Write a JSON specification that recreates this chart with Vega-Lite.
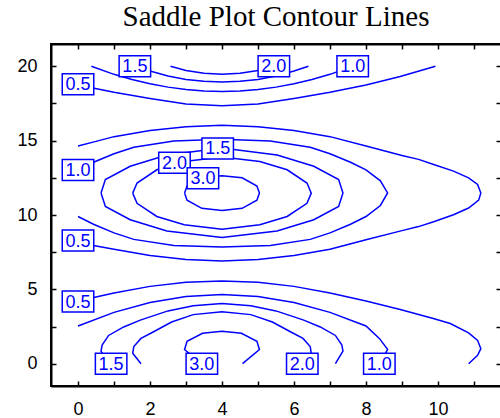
{
  "$schema": "https://vega.github.io/schema/vega-lite/v6.json",
  "width": 450,
  "height": 342,
  "autosize": "none",
  "padding": {"left": 51, "top": 44, "right": 0, "bottom": 32},
  "background": "white",
  "title": {"text": "Saddle Plot Contour Lines", "font": "Liberation Serif", "fontSize": 29, "fontWeight": "normal", "color": "black", "anchor": "middle", "baseline": "bottom", "offset": 10, "dy": 28},
  "config": {
    "view": {"stroke": "black", "strokeWidth": 2},
    "axis": {"domainColor": "black", "domainWidth": 2, "tickColor": "black", "tickWidth": 1.5, "tickSize": -5, "labelFont": "Liberation Sans", "labelFontSize": 18, "labelColor": "black", "labelPadding": 19, "grid": false}
  },
  "datasets": {
    "curves": [
      {"c":"T20","i":1,"x":2.57,"y":20},{"c":"T20","i":2,"x":3.0,"y":19.72},{"c":"T20","i":3,"x":3.5,"y":19.53},{"c":"T20","i":4,"x":4.0,"y":19.46},{"c":"T20","i":5,"x":4.5,"y":19.53},{"c":"T20","i":6,"x":5.0,"y":19.72},{"c":"T20","i":7,"x":5.43,"y":20},
      {"c":"T15","i":1,"x":1.6,"y":20},{"c":"T15","i":2,"x":2.0,"y":19.68},{"c":"T15","i":3,"x":2.5,"y":19.35},{"c":"T15","i":4,"x":3.0,"y":19.12},{"c":"T15","i":5,"x":3.5,"y":18.99},{"c":"T15","i":6,"x":4.0,"y":18.94},{"c":"T15","i":7,"x":4.5,"y":18.99},{"c":"T15","i":8,"x":5.0,"y":19.12},{"c":"T15","i":9,"x":5.5,"y":19.35},{"c":"T15","i":10,"x":6.0,"y":19.68},{"c":"T15","i":11,"x":6.4,"y":20},
      {"c":"T10","i":1,"x":0.37,"y":20},{"c":"T10","i":2,"x":1.0,"y":19.46},{"c":"T10","i":3,"x":1.5,"y":19.11},{"c":"T10","i":4,"x":2.0,"y":18.82},{"c":"T10","i":5,"x":2.5,"y":18.6},{"c":"T10","i":6,"x":3.0,"y":18.44},{"c":"T10","i":7,"x":3.5,"y":18.34},{"c":"T10","i":8,"x":4.0,"y":18.31},{"c":"T10","i":9,"x":4.5,"y":18.34},{"c":"T10","i":10,"x":5.0,"y":18.44},{"c":"T10","i":11,"x":5.5,"y":18.6},{"c":"T10","i":12,"x":6.0,"y":18.82},{"c":"T10","i":13,"x":6.5,"y":19.11},{"c":"T10","i":14,"x":7.0,"y":19.46},{"c":"T10","i":15,"x":7.63,"y":20},
      {"c":"T05","i":1,"x":0,"y":18.74},{"c":"T05","i":2,"x":1,"y":18.26},{"c":"T05","i":3,"x":2,"y":17.84},{"c":"T05","i":4,"x":3,"y":17.46},{"c":"T05","i":5,"x":4,"y":17.34},{"c":"T05","i":6,"x":5,"y":17.46},{"c":"T05","i":7,"x":6,"y":17.84},{"c":"T05","i":8,"x":7,"y":18.26},{"c":"T05","i":9,"x":8,"y":18.74},{"c":"T05","i":10,"x":8.95,"y":19.32},{"c":"T05","i":11,"x":9.93,"y":20},
      {"c":"M30","i":1,"x":2.96,"y":11.48},{"c":"M30","i":2,"x":3.03,"y":11.0},{"c":"M30","i":3,"x":3.44,"y":10.45},{"c":"M30","i":4,"x":4.0,"y":10.3},{"c":"M30","i":5,"x":4.56,"y":10.45},{"c":"M30","i":6,"x":4.97,"y":11.0},{"c":"M30","i":7,"x":5.04,"y":11.48},{"c":"M30","i":8,"x":4.97,"y":11.95},{"c":"M30","i":9,"x":4.56,"y":12.5},{"c":"M30","i":10,"x":4.0,"y":12.64},{"c":"M30","i":11,"x":3.44,"y":12.5},{"c":"M30","i":12,"x":3.03,"y":11.95},{"c":"M30","i":13,"x":2.96,"y":11.48},
      {"c":"M20","i":1,"x":1.52,"y":11.47},{"c":"M20","i":2,"x":1.64,"y":10.79},{"c":"M20","i":3,"x":2.19,"y":9.9},{"c":"M20","i":4,"x":2.95,"y":9.34},{"c":"M20","i":5,"x":4.0,"y":9.04},{"c":"M20","i":6,"x":5.05,"y":9.34},{"c":"M20","i":7,"x":5.81,"y":9.9},{"c":"M20","i":8,"x":6.36,"y":10.79},{"c":"M20","i":9,"x":6.48,"y":11.47},{"c":"M20","i":10,"x":6.36,"y":12.15},{"c":"M20","i":11,"x":5.81,"y":13.04},{"c":"M20","i":12,"x":5.05,"y":13.6},{"c":"M20","i":13,"x":4.0,"y":13.9},{"c":"M20","i":14,"x":2.95,"y":13.6},{"c":"M20","i":15,"x":2.19,"y":13.04},{"c":"M20","i":16,"x":1.64,"y":12.15},{"c":"M20","i":17,"x":1.52,"y":11.47},
      {"c":"M15","i":1,"x":0.64,"y":11.48},{"c":"M15","i":2,"x":0.76,"y":10.58},{"c":"M15","i":3,"x":1.45,"y":9.68},{"c":"M15","i":4,"x":2.47,"y":8.93},{"c":"M15","i":5,"x":4.0,"y":8.48},{"c":"M15","i":6,"x":5.53,"y":8.93},{"c":"M15","i":7,"x":6.55,"y":9.68},{"c":"M15","i":8,"x":7.24,"y":10.58},{"c":"M15","i":9,"x":7.36,"y":11.48},{"c":"M15","i":10,"x":7.24,"y":12.38},{"c":"M15","i":11,"x":6.55,"y":13.28},{"c":"M15","i":12,"x":5.53,"y":14.03},{"c":"M15","i":13,"x":4.0,"y":14.5},{"c":"M15","i":14,"x":2.47,"y":14.03},{"c":"M15","i":15,"x":1.45,"y":13.28},{"c":"M15","i":16,"x":0.76,"y":12.38},{"c":"M15","i":17,"x":0.64,"y":11.48},
      {"c":"M10","i":1,"x":0,"y":13.03},{"c":"M10","i":2,"x":0.43,"y":13.55},{"c":"M10","i":3,"x":1.0,"y":14.12},{"c":"M10","i":4,"x":1.55,"y":14.56},{"c":"M10","i":5,"x":2.66,"y":14.97},{"c":"M10","i":6,"x":4.0,"y":15.1},{"c":"M10","i":7,"x":5.34,"y":14.97},{"c":"M10","i":8,"x":6.45,"y":14.56},{"c":"M10","i":9,"x":7.0,"y":14.12},{"c":"M10","i":10,"x":7.57,"y":13.55},{"c":"M10","i":11,"x":8.0,"y":13.03},{"c":"M10","i":12,"x":8.4,"y":12.3},{"c":"M10","i":13,"x":8.6,"y":11.48},{"c":"M10","i":14,"x":8.4,"y":10.64},{"c":"M10","i":15,"x":8.0,"y":9.9},{"c":"M10","i":16,"x":7.57,"y":9.38},{"c":"M10","i":17,"x":7.0,"y":8.8},{"c":"M10","i":18,"x":6.45,"y":8.36},{"c":"M10","i":19,"x":5.34,"y":7.95},{"c":"M10","i":20,"x":4.0,"y":7.84},{"c":"M10","i":21,"x":2.66,"y":7.95},{"c":"M10","i":22,"x":1.55,"y":8.36},{"c":"M10","i":23,"x":1.0,"y":8.8},{"c":"M10","i":24,"x":0.43,"y":9.38},{"c":"M10","i":25,"x":0,"y":9.9},
      {"c":"M05","i":1,"x":0,"y":14.64},{"c":"M05","i":2,"x":0.5,"y":14.95},{"c":"M05","i":3,"x":1.0,"y":15.27},{"c":"M05","i":4,"x":2.0,"y":15.68},{"c":"M05","i":5,"x":3.0,"y":15.93},{"c":"M05","i":6,"x":4.0,"y":16.03},{"c":"M05","i":7,"x":5.0,"y":15.93},{"c":"M05","i":8,"x":6.0,"y":15.68},{"c":"M05","i":9,"x":7.0,"y":15.27},{"c":"M05","i":10,"x":8.0,"y":14.64},{"c":"M05","i":11,"x":9.0,"y":14.0},{"c":"M05","i":12,"x":9.46,"y":13.74},{"c":"M05","i":13,"x":9.88,"y":13.4},{"c":"M05","i":14,"x":10.43,"y":12.95},{"c":"M05","i":15,"x":10.85,"y":12.5},{"c":"M05","i":16,"x":11.1,"y":12.05},{"c":"M05","i":17,"x":11.19,"y":11.48},{"c":"M05","i":18,"x":11.13,"y":11.0},{"c":"M05","i":19,"x":10.85,"y":10.47},{"c":"M05","i":20,"x":10.43,"y":10.02},{"c":"M05","i":21,"x":9.88,"y":9.55},{"c":"M05","i":22,"x":9.46,"y":9.22},{"c":"M05","i":23,"x":9.0,"y":8.95},{"c":"M05","i":24,"x":8.0,"y":8.33},{"c":"M05","i":25,"x":7.0,"y":7.69},{"c":"M05","i":26,"x":6.0,"y":7.27},{"c":"M05","i":27,"x":5.0,"y":7.0},{"c":"M05","i":28,"x":4.0,"y":6.91},{"c":"M05","i":29,"x":3.0,"y":7.0},{"c":"M05","i":30,"x":2.0,"y":7.27},{"c":"M05","i":31,"x":1.0,"y":7.69},{"c":"M05","i":32,"x":0.43,"y":7.95},{"c":"M05","i":33,"x":0,"y":8.28},
      {"c":"B30","i":1,"x":3.43,"y":0},{"c":"B30","i":2,"x":2.96,"y":0.95},{"c":"B30","i":3,"x":3.03,"y":1.5},{"c":"B30","i":4,"x":3.46,"y":2.05},{"c":"B30","i":5,"x":4.0,"y":2.19},{"c":"B30","i":6,"x":4.54,"y":2.05},{"c":"B30","i":7,"x":4.97,"y":1.5},{"c":"B30","i":8,"x":5.04,"y":0.95},{"c":"B30","i":9,"x":4.57,"y":0},
      {"c":"B20","i":1,"x":1.75,"y":0},{"c":"B20","i":2,"x":1.52,"y":0.7},{"c":"B20","i":3,"x":1.55,"y":1.15},{"c":"B20","i":4,"x":1.75,"y":1.7},{"c":"B20","i":5,"x":2.1,"y":2.15},{"c":"B20","i":6,"x":2.6,"y":2.8},{"c":"B20","i":7,"x":3.2,"y":3.3},{"c":"B20","i":8,"x":4.0,"y":3.49},{"c":"B20","i":9,"x":4.8,"y":3.3},{"c":"B20","i":10,"x":5.4,"y":2.8},{"c":"B20","i":11,"x":5.9,"y":2.15},{"c":"B20","i":12,"x":6.25,"y":1.7},{"c":"B20","i":13,"x":6.45,"y":1.15},{"c":"B20","i":14,"x":6.48,"y":0.7},{"c":"B20","i":15,"x":6.25,"y":0},
      {"c":"B15","i":1,"x":0.85,"y":0},{"c":"B15","i":2,"x":0.64,"y":0.85},{"c":"B15","i":3,"x":0.67,"y":1.25},{"c":"B15","i":4,"x":0.85,"y":1.9},{"c":"B15","i":5,"x":1.27,"y":2.47},{"c":"B15","i":6,"x":1.73,"y":2.93},{"c":"B15","i":7,"x":2.5,"y":3.55},{"c":"B15","i":8,"x":3.2,"y":3.9},{"c":"B15","i":9,"x":4.0,"y":4.05},{"c":"B15","i":10,"x":4.8,"y":3.9},{"c":"B15","i":11,"x":5.5,"y":3.55},{"c":"B15","i":12,"x":6.27,"y":2.93},{"c":"B15","i":13,"x":6.73,"y":2.47},{"c":"B15","i":14,"x":7.15,"y":1.9},{"c":"B15","i":15,"x":7.33,"y":1.25},{"c":"B15","i":16,"x":7.36,"y":0.85},{"c":"B15","i":17,"x":7.15,"y":0},
      {"c":"B10","i":1,"x":0,"y":2.54},{"c":"B10","i":2,"x":1.0,"y":3.45},{"c":"B10","i":3,"x":2.0,"y":4.12},{"c":"B10","i":4,"x":3.0,"y":4.52},{"c":"B10","i":5,"x":4.0,"y":4.66},{"c":"B10","i":6,"x":5.0,"y":4.52},{"c":"B10","i":7,"x":6.0,"y":4.12},{"c":"B10","i":8,"x":7.0,"y":3.45},{"c":"B10","i":9,"x":8.0,"y":2.54},{"c":"B10","i":10,"x":8.37,"y":1.7},{"c":"B10","i":11,"x":8.6,"y":0.97},{"c":"B10","i":12,"x":8.4,"y":0},
      {"c":"B05","i":1,"x":0,"y":4.21},{"c":"B05","i":2,"x":1.0,"y":4.75},{"c":"B05","i":3,"x":2.0,"y":5.2},{"c":"B05","i":4,"x":3.0,"y":5.47},{"c":"B05","i":5,"x":4.0,"y":5.56},{"c":"B05","i":6,"x":5.0,"y":5.47},{"c":"B05","i":7,"x":6.0,"y":5.2},{"c":"B05","i":8,"x":7.0,"y":4.75},{"c":"B05","i":9,"x":8.0,"y":4.21},{"c":"B05","i":10,"x":8.95,"y":3.65},{"c":"B05","i":11,"x":9.87,"y":3.04},{"c":"B05","i":12,"x":10.34,"y":2.7},{"c":"B05","i":13,"x":10.85,"y":2.07},{"c":"B05","i":14,"x":11.1,"y":1.57},{"c":"B05","i":15,"x":11.19,"y":1.01},{"c":"B05","i":16,"x":11.1,"y":0.56},{"c":"B05","i":17,"x":10.85,"y":0}
    ],
    "labels": [
      {"t":"1.5","x":1.58,"y":20.0},{"t":"2.0","x":5.44,"y":20.0},{"t":"1.0","x":7.63,"y":20.0},{"t":"0.5","x":0,"y":18.8},
      {"t":"1.5","x":3.88,"y":14.48},{"t":"2.0","x":2.68,"y":13.51},{"t":"3.0","x":3.47,"y":12.47},{"t":"1.0","x":0,"y":13.03},{"t":"0.5","x":0,"y":8.28},
      {"t":"0.5","x":0,"y":4.18},{"t":"1.5","x":0.92,"y":0},{"t":"3.0","x":3.44,"y":0},{"t":"2.0","x":6.23,"y":0},{"t":"1.0","x":8.37,"y":0}
    ]
  },
  "layer": [
    {
      "data": {"name": "curves"},
      "mark": {"type": "line", "color": "#0000ff", "strokeWidth": 1.5, "clip": true},
      "encoding": {
        "x": {"field": "x", "type": "quantitative", "scale": {"domain": [-0.75, 11.75], "nice": false, "zero": false}, "axis": {"orient": "bottom", "title": null, "values": [0,1,2,3,4,5,6,7,8,9,10,11], "labelExpr": "datum.value % 2 == 0 ? datum.label : ''"}},
        "y": {"field": "y", "type": "quantitative", "scale": {"domain": [-1.5, 21.5], "nice": false, "zero": false}, "axis": {"orient": "left", "title": null, "values": [0,2.5,5,7.5,10,12.5,15,17.5,20], "labelExpr": "datum.value % 5 == 0 ? datum.label : ''"}},
        "detail": {"field": "c"},
        "order": {"field": "i", "type": "quantitative"}
      }
    },
    {
      "data": {"name": "labels"},
      "mark": {"type": "point", "shape": "M-1.5,-1L1.5,-1L1.5,1L-1.5,1Z", "size": 441, "filled": true, "fill": "white", "stroke": "#0000ff", "strokeWidth": 1.5, "opacity": 1},
      "encoding": {
        "x": {"field": "x", "type": "quantitative", "axis": {"orient": "top", "title": null, "values": [0,1,2,3,4,5,6,7,8,9,10,11], "labels": false, "labelFontSize": 0, "labelPadding": 0, "minExtent": 0, "maxExtent": 0}},
        "y": {"field": "y", "type": "quantitative", "axis": {"orient": "right", "title": null, "values": [0,2.5,5,7.5,10,12.5,15,17.5,20], "labels": false, "labelFontSize": 0, "labelPadding": 0, "minExtent": 0, "maxExtent": 0}}
      }
    },
    {
      "data": {"name": "labels"},
      "mark": {"type": "text", "font": "Liberation Sans", "fontSize": 18, "color": "#0000ff", "baseline": "middle", "align": "center", "dy": 1},
      "encoding": {
        "x": {"field": "x", "type": "quantitative", "axis": null},
        "y": {"field": "y", "type": "quantitative", "axis": null},
        "text": {"field": "t"}
      }
    }
  ],
  "resolve": {"axis": {"x": "independent", "y": "independent"}}
}
